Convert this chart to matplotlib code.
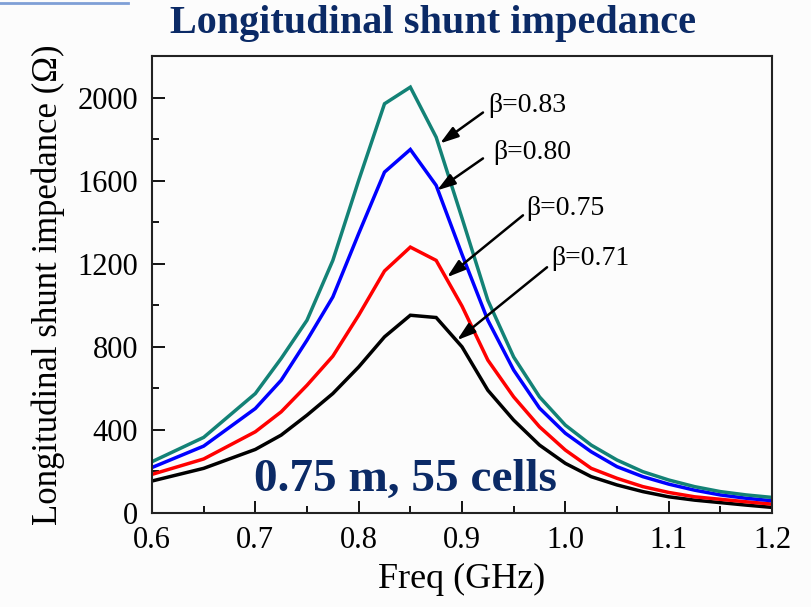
import matplotlib
matplotlib.use("Agg")
import matplotlib.pyplot as plt
from matplotlib.lines import Line2D
from matplotlib.ticker import MultipleLocator

plt.rcParams['font.family'] = ['Liberation Serif', 'DejaVu Serif']

freq = [0.6, 0.65, 0.7, 0.725, 0.75, 0.775, 0.8, 0.825, 0.85, 0.875, 0.9, 0.925,
        0.95, 0.975, 1.0, 1.025, 1.05, 1.075, 1.1, 1.125, 1.15, 1.175, 1.2]
z_083 = [247, 364, 575, 744, 928, 1216, 1601, 1970, 2050, 1809, 1420, 1024,
         751, 559, 423, 327, 255, 199, 159, 127, 103, 87, 75]
z_080 = [219, 322, 503, 639, 832, 1040, 1345, 1641, 1750, 1577, 1245, 928,
         688, 505, 384, 295, 223, 175, 139, 110, 87, 71, 59]
z_075 = [186, 260, 391, 487, 615, 755, 952, 1165, 1280, 1216, 996, 736,
         559, 415, 303, 215, 167, 127, 99, 78, 66, 54, 43]
z_071 = [154, 215, 306, 375, 471, 575, 703, 848, 952, 941, 800, 591,
         447, 327, 239, 175, 135, 103, 78, 62, 50, 38, 27]

series = [z_071, z_075, z_080, z_083]
colors = ['#000000', '#ff0000', '#0000ff', '#138276']
beta_labels = ['β=0.71', 'β=0.75', 'β=0.80', 'β=0.83']
label_xy = [(0.986, 1226), (0.962, 1466), (0.930, 1736), (0.9252, 1962)]
arrow_tail = [(0.9823, 1183), (0.959, 1433), (0.9203, 1707), (0.9203, 1928)]
arrow_head = [(0.8952, 832), (0.8855, 1135), (0.8758, 1553), (0.8787, 1779)]

fig = plt.figure(figsize=(8.11, 6.07), dpi=100, facecolor='#fcfcfc')
ax = fig.add_axes([152/811, 1-513/607, 620/811, 457/607])
ax.set_facecolor('#fcfcfc')

for ys, c in zip(series, colors):
    ax.plot(freq, ys, color=c, lw=2.5, solid_joinstyle='miter')

for lab, (tx, ty), tail, head in zip(beta_labels, label_xy, arrow_tail, arrow_head):
    ax.text(tx, ty, lab, fontsize=20, ha='left', va='center', color='black')
    ax.annotate('', xy=head, xytext=tail,
                arrowprops=dict(arrowstyle='-|>,head_length=1.1,head_width=0.35',
                                color='black', lw=1.8, shrinkA=0, shrinkB=0))

ax.set_xlim(0.6, 1.2)
ax.set_ylim(0, 2200)
ax.xaxis.set_major_locator(MultipleLocator(0.1))
ax.xaxis.set_minor_locator(MultipleLocator(0.05))
ax.yaxis.set_major_locator(MultipleLocator(400))
ax.yaxis.set_minor_locator(MultipleLocator(200))
ax.set_xticks([0.6, 0.7, 0.8, 0.9, 1.0, 1.1, 1.2])
ax.set_xticklabels(['0.6', '0.7', '0.8', '0.9', '1.0', '1.1', '1.2'])
ax.tick_params(which='both', direction='in', color='black', width=1.3)
ax.tick_params(which='major', length=9, labelsize=22)
ax.tick_params(axis='y', which='major', pad=10)
ax.tick_params(axis='x', which='major', pad=9)
ax.tick_params(which='minor', length=5)
for s in ax.spines.values():
    s.set_linewidth(1.5)
    s.set_color('#222222')

ax.set_xlabel('Freq (GHz)', fontsize=26, labelpad=6)
ax.set_ylabel('Longitudinal shunt impedance (Ω)', fontsize=25, labelpad=9)

ax.text(0.845, 159, '0.75 m, 55 cells', fontsize=34, fontweight='bold',
        color='#0b2a66', ha='center', va='center')

fig.text(433/811, 1-24/607, 'Longitudinal shunt impedance', fontsize=29,
         fontweight='bold', color='#0b2a66', ha='center', va='center')

fig.add_artist(Line2D([0, 128/811], [1-3/607, 1-3/607], color='#7f9fd6', lw=2,
                      transform=fig.transFigure))

fig.savefig('out.png', dpi=100, facecolor=fig.get_facecolor())
